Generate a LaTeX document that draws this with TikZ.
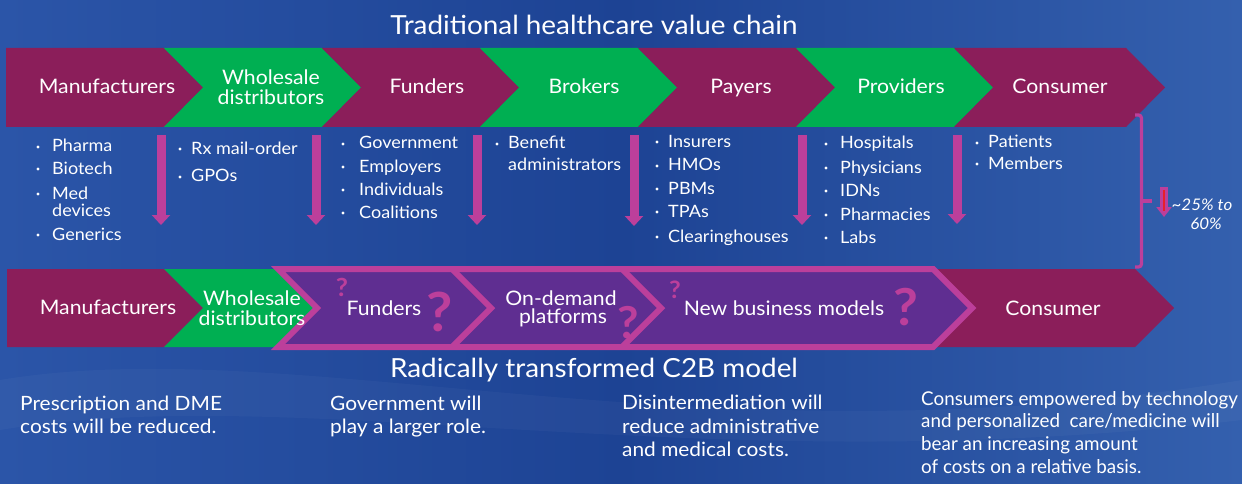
\documentclass[tikz,border=0pt]{standalone}
\usepackage{fontspec}
\setmainfont{Lato}[FakeStretch=1.06]
\newfontfamily\narrowfont{Lato}[FakeStretch=0.99]
\usetikzlibrary{arrows.meta}
\definecolor{bgA}{HTML}{2B55A8}
\definecolor{bgB}{HTML}{1D4394}
\definecolor{bgC}{HTML}{3460AE}
\definecolor{maroon}{HTML}{8B1E5A}
\definecolor{grn}{HTML}{00AF52}
\definecolor{purp}{HTML}{5F2E91}
\definecolor{mag}{HTML}{BC3F9B}
\definecolor{redl}{HTML}{E8202A}
\tikzset{
  lbl/.style={text=white, font=\fontsize{20}{22}\selectfont, anchor=base, inner sep=0pt},
  item/.style={text=white, font=\fontsize{17}{19}\selectfont, anchor=base west, inner sep=0pt},
  note/.style={text=white, font=\fontsize{19.7}{22}\selectfont, anchor=base west, inner sep=0pt},
  narrownote/.style={text=white, font=\narrowfont\fontsize{19}{22}\selectfont, anchor=base west, inner sep=0pt},
  ttl/.style={text=white, font=\fontsize{26.3}{28}\selectfont, anchor=base, inner sep=0pt},
  qm/.style={text=mag, font=\bfseries\fontsize{#1}{#1}\selectfont, anchor=base, inner sep=0pt},
  downarrow/.style={draw=mag, line width=9pt, -{Triangle[width=18pt,length=10pt]}},
  framestroke/.style={draw=mag, line width=6pt, line join=miter},
  pct/.style={text=white, font=\itshape\fontsize{16}{18}\selectfont, anchor=base, inner sep=0pt},
}
\newcommand\chev[5]{\fill[#5] (#1,#3) -- (#2,#3) -- ({#2+39},{(#3+#4)/2}) -- (#2,#4) -- (#1,#4) -- ({#1+39},{(#3+#4)/2}) -- cycle;}
\newcommand\chevflat[5]{\fill[#5] (#1,#3) -- (#2,#3) -- ({#2+39},{(#3+#4)/2}) -- (#2,#4) -- (#1,#4) -- cycle;}
\newcommand\blt[2]{\fill[white] (#1,#2) circle (1.6);}
\begin{document}
\begin{tikzpicture}[x=1pt,y=-1pt]
\useasboundingbox (0,0) rectangle (1242,484);
% background
\shade[left color=bgA, right color=bgC, middle color=bgB] (0,0) rectangle (1242,484);
\fill[white, opacity=0.03] (0,380) .. controls (300,330) and (700,470) .. (1242,380) -- (1242,420) .. controls (700,484) and (300,380) .. (0,430) -- cycle;
% titles
\node[ttl] (t1) at (594,35) {Traditional healthcare value chain};
\node[ttl] (t2) at (594,377.5) {Radically transformed C2B model};
% top chain
\chevflat{6}{164}{48}{127}{maroon}
\chev{164}{322}{48}{127}{grn}
\chev{322}{480}{48}{127}{maroon}
\chev{480}{638}{48}{127}{grn}
\chev{638}{796}{48}{127}{maroon}
\chev{796}{954}{48}{127}{grn}
\chev{954}{1126}{48}{127}{maroon}
\node[lbl] (m1) at (107,94) {Manufacturers};
\node[lbl] (w1a) at (271,85) {Wholesale};
\node[lbl] (w1b) at (271,105) {distributors};
\node[lbl] (f1) at (427,94) {Funders};
\node[lbl] (b1) at (584,94) {Brokers};
\node[lbl] (p1) at (741,94) {Payers};
\node[lbl] (pr1) at (901,94) {Providers};
\node[lbl] (c1) at (1060,94) {Consumer};
% down arrows
\foreach \i/\x/\e in {1/161/225,2/316/225,3/477/225,4/634/226,5/802/225,6/957/224}{
  \coordinate (as\i) at (\x,135);
  \coordinate (ae\i) at (\x,\e);
  \draw[downarrow] (as\i) -- (ae\i);
}
% column 1
\blt{38}{147}\node[item] (i11) at (52,152) {Pharma};
\blt{38}{169}\node[item] (i12) at (52,174) {Biotech};
\blt{38}{194}\node[item] (i13) at (52,199) {Med};
\node[item] (i14) at (52,216) {devices};
\blt{38}{235}\node[item] (i15) at (52,240) {Generics};
% column 2
\blt{180}{149}\node[item] (i21) at (191,154) {Rx mail-order};
\blt{180}{177}\node[item] (i22) at (191,182) {GPOs};
% column 3
\blt{343}{144}\node[item] (i31) at (359,149) {Government};
\blt{343}{167}\node[item] (i32) at (359,172) {Employers};
\blt{343}{190}\node[item] (i33) at (359,195) {Individuals};
\blt{343}{213}\node[item] (i34) at (359,218) {Coalitions};
% column 4
\blt{497}{144}\node[item] (i41) at (508,149) {Benefit};
\node[item] (i42) at (508,171) {administrators};
% column 5
\blt{657}{142}\node[item] (i51) at (668,147) {Insurers};
\blt{657}{166}\node[item] (i52) at (668,171) {HMOs};
\blt{657}{189}\node[item] (i53) at (668,194) {PBMs};
\blt{657}{212}\node[item] (i54) at (668,217) {TPAs};
\blt{657}{237}\node[item] (i55) at (668,242) {Clearinghouses};
% column 6
\blt{826}{144}\node[item] (i61) at (840,149) {Hospitals};
\blt{826}{168}\node[item] (i62) at (840,173) {Physicians};
\blt{826}{191}\node[item] (i63) at (840,196) {IDNs};
\blt{826}{215}\node[item] (i64) at (840,220) {Pharmacies};
\blt{826}{238}\node[item] (i65) at (840,243) {Labs};
% column 7
\blt{977}{143}\node[item] (i71) at (988,148) {Patients};
\blt{977}{164}\node[item] (i72) at (988,169) {Members};
% bracket
\coordinate (bt0) at (1135,115);
\coordinate (bt) at (1141.5,115);
\coordinate (bm) at (1141.5,201);
\coordinate (bmr) at (1152,201);
\coordinate (bb) at (1141.5,267);
\coordinate (bb0) at (1135,267);
\draw[mag, line width=3.2pt, rounded corners=3pt] (bt0) -- (bt) -- (bb) -- (bb0);
\draw[mag, line width=3.2pt] (bm) -- (bmr);
% small red arrow
\coordinate (ra1) at (1164,187);
\coordinate (ra2) at (1164,217);
\coordinate (rl1) at (1164,190);
\coordinate (rl2) at (1164,211);
\draw[draw=mag, line width=8pt, -{Triangle[width=15pt,length=10pt]}] (ra1) -- (ra2);
\draw[redl, line width=1.7pt] (rl1) -- (rl2);
\node[pct] (pc1) at (1202,210) {\textasciitilde 25\% to};
\node[pct] (pc2) at (1206,229) {60\%};
% bottom chain
\chevflat{7}{164}{269}{347}{maroon}
\chev{164}{278}{269}{347}{grn}
\chev{932}{1135}{269}{347}{maroon}
\coordinate (fr1) at (278,269);
\coordinate (fr2) at (933,269);
\coordinate (fr3) at (972,308);
\coordinate (fr4) at (933,347);
\coordinate (fr5) at (278,347);
\coordinate (fr6) at (317,308);
\filldraw[fill=purp, framestroke] (fr1) -- (fr2) -- (fr3) -- (fr4) -- (fr5) -- (fr6) -- cycle;
\coordinate (s1a) at (452,269);
\coordinate (s1b) at (491,308);
\coordinate (s1c) at (452,347);
\coordinate (s2a) at (622,269);
\coordinate (s2b) at (661,308);
\coordinate (s2c) at (622,347);
\draw[framestroke] (s1a) -- (s1b) -- (s1c);
\draw[framestroke] (s2a) -- (s2b) -- (s2c);
\node[lbl] (m2) at (108,314) {Manufacturers};
\node[lbl] (w2a) at (252,305) {Wholesale};
\node[lbl] (w2b) at (252,325) {distributors};
\node[lbl] (f2) at (384,315) {Funders};
\node[lbl] (o2a) at (561,305) {On-demand};
\node[lbl] (o2b) at (563,323) {platforms};
\node[lbl] (n2) at (784,315) {New business models};
\node[lbl] (c2) at (1053,315) {Consumer};
% question marks
\node[qm=25] (q1) at (342,296) {?};
\node[qm=54] (q2) at (440,331.5) {?};
\node[qm=44] (q3) at (628,338) {?};
\node[qm=24] (q4) at (675,298) {?};
\node[qm=51] (q5) at (906,325) {?};
% bottom notes
\node[note] (n1a) at (20,410) {Prescription and DME};
\node[note] (n1b) at (20,433.5) {costs will be reduced.};
\node[note] (n2a) at (330,410) {Government will};
\node[note] (n2b) at (330,433.5) {play a larger role.};
\node[note] (n3a) at (622,409) {Disintermediation will};
\node[note] (n3b) at (622,433) {reduce administrative};
\node[note] (n3c) at (622,456.5) {and medical costs.};
\node[narrownote] (n4a) at (921,405) {Consumers empowered by technology};
\node[narrownote] (n4b) at (921,427.5) {and personalized\ \ care/medicine will};
\node[narrownote] (n4c) at (921,450.5) {bear an increasing amount};
\node[narrownote] (n4d) at (921,473) {of costs on a relative basis.};
\end{tikzpicture}
\end{document}
